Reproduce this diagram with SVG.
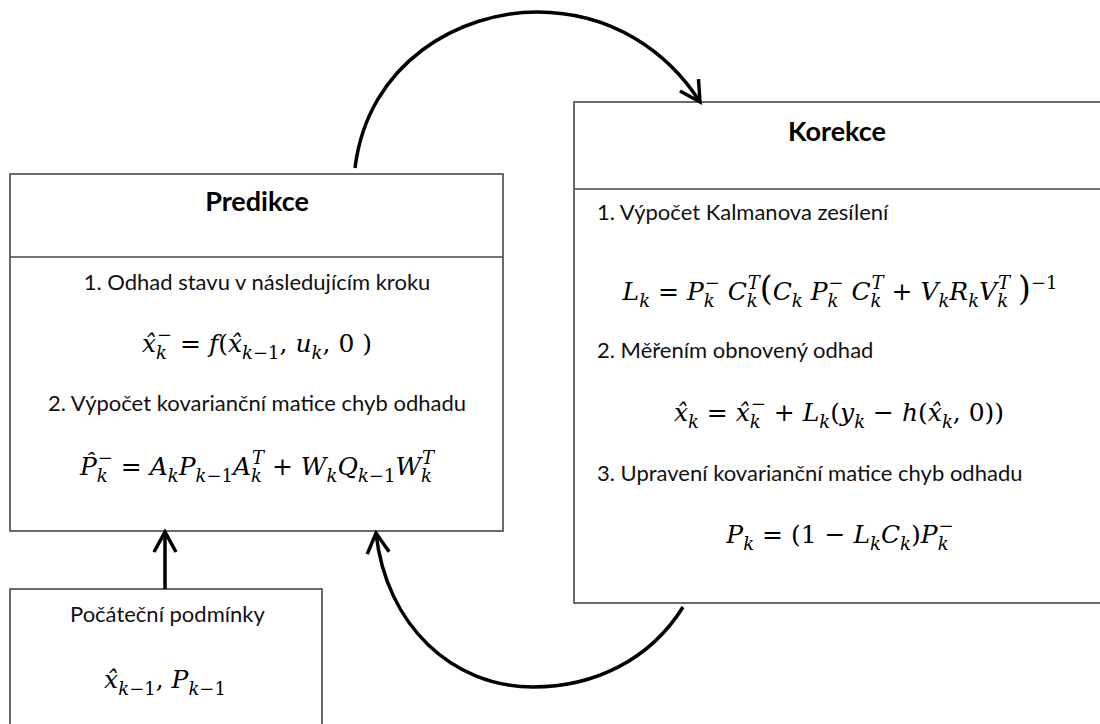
<svg xmlns="http://www.w3.org/2000/svg" width="1100" height="724" viewBox="0 0 1100 724">
<defs>
<style>
.box{fill:#fff;stroke:#474747;stroke-width:1.6}
.div{stroke:#474747;stroke-width:1.6}
.title{font-family:Lato,"Open Sans",sans-serif;font-weight:bold;font-size:27px;fill:#000}
.txt{font-family:Lato,"Open Sans",sans-serif;font-size:22px;fill:#111}
.m{font-family:"DejaVu Serif","Liberation Serif",serif;font-size:25px;fill:#000}
.i{font-style:italic}
.sb{font-size:18px;baseline-shift:-7px}
.sp{font-size:18px;baseline-shift:11px}
.big{font-size:33px}
.conn{fill:none;stroke:#000;stroke-width:3.5}
</style>
<marker id="ah" markerUnits="userSpaceOnUse" markerWidth="30" markerHeight="30" viewBox="-24 -15 30 30" refX="0" refY="0" orient="auto">
<path d="M-20,-11 L0,0 L-20,11" fill="none" stroke="#000" stroke-width="3.5" stroke-linejoin="miter"/>
</marker>
</defs>
<g id="predikce">
<rect class="box" x="10" y="174" width="493" height="357"/>
<line class="div" x1="10" y1="257" x2="503" y2="257"/>
<text class="title" x="257" y="211" text-anchor="middle">Predikce</text>
<text class="txt" x="257" y="290" text-anchor="middle">1. Odhad stavu v následujícím kroku</text>
<text class="m" x="257" y="352" text-anchor="middle"><tspan class="i">x̂</tspan><tspan class="sb i">k</tspan><tspan class="sp" dx="-10">−</tspan> = <tspan class="i">f</tspan>(<tspan class="i">x̂</tspan><tspan class="sb"><tspan class="i">k</tspan>−1</tspan>, <tspan class="i">u</tspan><tspan class="sb i">k</tspan>, 0 )</text>
<text class="txt" x="257" y="411" text-anchor="middle">2. Výpočet kovarianční matice chyb odhadu</text>
<text class="m" x="257" y="475" text-anchor="middle"><tspan class="i">P̂</tspan><tspan class="sb i">k</tspan><tspan class="sp" dx="-10">−</tspan> = <tspan class="i">A</tspan><tspan class="sb i">k</tspan><tspan class="i">P</tspan><tspan class="sb"><tspan class="i">k</tspan>−1</tspan><tspan class="i">A</tspan><tspan class="sb i">k</tspan><tspan class="sp i" dx="-10">T</tspan> + <tspan class="i">W</tspan><tspan class="sb i">k</tspan><tspan class="i">Q</tspan><tspan class="sb"><tspan class="i">k</tspan>−1</tspan><tspan class="i">W</tspan><tspan class="sb i">k</tspan><tspan class="sp i" dx="-10">T</tspan></text>
</g>
<g id="korekce">
<rect class="box" x="574" y="102" width="540" height="501"/>
<line class="div" x1="574" y1="189" x2="1100" y2="189"/>
<text class="title" x="837" y="141" text-anchor="middle">Korekce</text>
<text class="txt" x="597" y="220">1. Výpočet Kalmanova zesílení</text>
<text class="m" x="840" y="300" text-anchor="middle"><tspan class="i">L</tspan><tspan class="sb i">k</tspan> = <tspan class="i">P</tspan><tspan class="sb i">k</tspan><tspan class="sp" dx="-10">−</tspan> <tspan class="i">C</tspan><tspan class="sb i">k</tspan><tspan class="sp i" dx="-10">T</tspan><tspan class="big">(</tspan><tspan class="i">C</tspan><tspan class="sb i">k</tspan> <tspan class="i">P</tspan><tspan class="sb i">k</tspan><tspan class="sp" dx="-10">−</tspan> <tspan class="i">C</tspan><tspan class="sb i">k</tspan><tspan class="sp i" dx="-10">T</tspan> + <tspan class="i">V</tspan><tspan class="sb i">k</tspan><tspan class="i">R</tspan><tspan class="sb i">k</tspan><tspan class="i">V</tspan><tspan class="sb i">k</tspan><tspan class="sp i" dx="-10">T</tspan> <tspan class="big">)</tspan><tspan class="sp" baseline-shift="18">−1</tspan></text>
<text class="txt" x="597" y="358">2. Měřením obnovený odhad</text>
<text class="m" x="839" y="421" text-anchor="middle"><tspan class="i">x̂</tspan><tspan class="sb i">k</tspan> = <tspan class="i">x̂</tspan><tspan class="sb i">k</tspan><tspan class="sp" dx="-10">−</tspan> + <tspan class="i">L</tspan><tspan class="sb i">k</tspan>(<tspan class="i">y</tspan><tspan class="sb i">k</tspan> − <tspan class="i">h</tspan>(<tspan class="i">x̂</tspan><tspan class="sb i">k</tspan>, 0))</text>
<text class="txt" x="597" y="481">3. Upravení kovarianční matice chyb odhadu</text>
<text class="m" x="840" y="543" text-anchor="middle"><tspan class="i">P</tspan><tspan class="sb i">k</tspan> = (1 − <tspan class="i">L</tspan><tspan class="sb i">k</tspan><tspan class="i">C</tspan><tspan class="sb i">k</tspan>)<tspan class="i">P</tspan><tspan class="sb i">k</tspan><tspan class="sp" dx="-10">−</tspan></text>
</g>
<g id="pocatecni">
<rect class="box" x="10" y="589" width="312" height="150"/>
<text class="txt" x="70" y="622">Počáteční podmínky</text>
<text class="m" x="165" y="688" text-anchor="middle"><tspan class="i">x̂</tspan><tspan class="sb"><tspan class="i">k</tspan>−1</tspan>, <tspan class="i">P</tspan><tspan class="sb"><tspan class="i">k</tspan>−1</tspan></text>
</g>
<g id="connectors">
<path class="conn" d="M355,168 C368,62 460,12 537,12 C612,12 668,52 700,102" marker-end="url(#ah)"/>
<path class="conn" d="M683,607 C650,660 594,687 533,687 C452,687 386,625 376,533" marker-end="url(#ah)"/>
<path class="conn" d="M165,589 L165,532" marker-end="url(#ah)"/>
</g>
</svg>
